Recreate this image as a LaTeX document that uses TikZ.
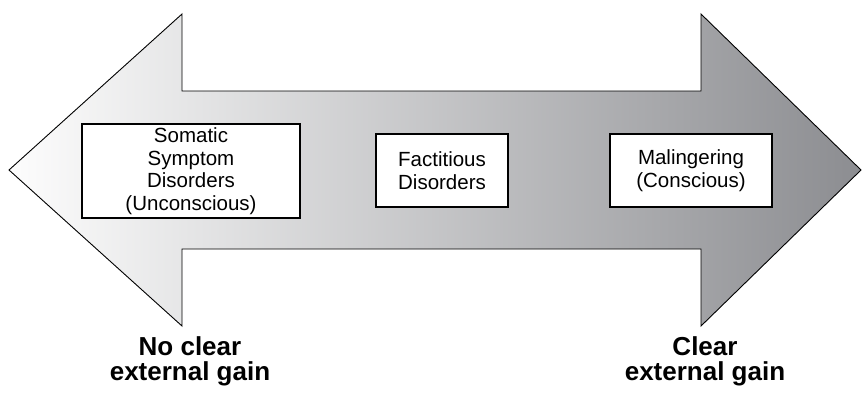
\documentclass[tikz,border=0pt]{standalone}
\usepackage{fontspec}
\setmainfont{Liberation Sans}
\definecolor{arrowdark}{RGB}{140,141,145}
\definecolor{arrowlight}{RGB}{253,253,253}
\tikzset{
  bigarrow/.style={draw=black, line width=0.9pt, line join=miter, left color=arrowlight, right color=arrowdark},
  boxnode/.style={draw=black, line width=1.2pt, fill=white, align=center, inner sep=0pt,
    font=\fontsize{20.5}{22.5}\selectfont},
  gainlabel/.style={align=center, inner sep=0pt, anchor=base, font=\fontsize{26}{25}\selectfont\bfseries}
}
\begin{document}
\begin{tikzpicture}[x=1pt,y=-1pt]
\useasboundingbox (0,0) rectangle (864,392);
\path[bigarrow] (9,170) -- (182,14) -- (182,91) -- (701,91) -- (701,14) -- (861,170)
  -- (701,326) -- (701,249) -- (182,249) -- (182,326) -- cycle;
\node[boxnode, minimum width=218pt, minimum height=94pt] (ssd) at (191,171)
  {Somatic\\Symptom\\Disorders\\(Unconscious)};
\node[boxnode, minimum width=132pt, minimum height=73pt] (fd) at (442,170.5)
  {Factitious\\Disorders};
\node[boxnode, minimum width=162pt, minimum height=73pt] (mal) at (691,170.5)
  {Malingering\\(Conscious)};
\node[gainlabel] (nogain) at (190,380) {No clear\\external gain};
\node[gainlabel] (gain) at (705,380) {Clear\\external gain};
\end{tikzpicture}
\end{document}
